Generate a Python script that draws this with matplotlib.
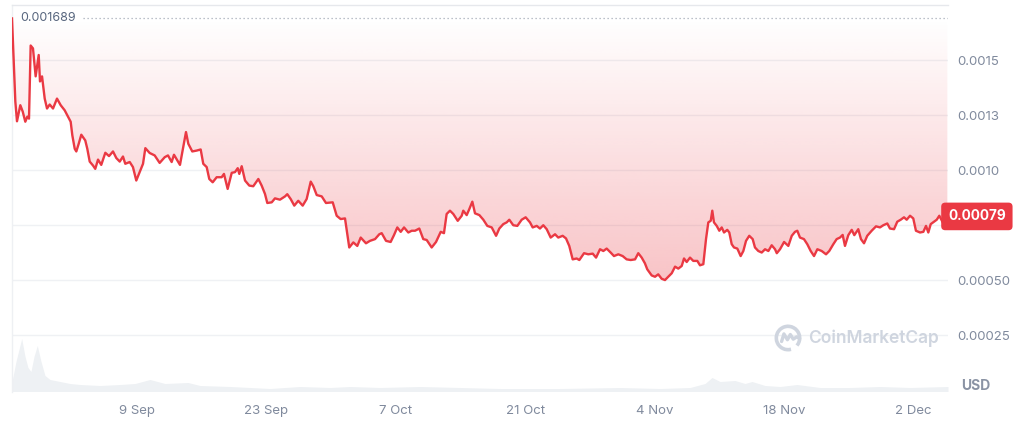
import numpy as np
import matplotlib
matplotlib.use("Agg")
import matplotlib.pyplot as plt
import matplotlib.dates as mdates
import matplotlib.transforms as mtransforms
from matplotlib.patches import Arc

plt.rcParams['font.family'] = ['Inter', 'DejaVu Sans']

# ---------------- data ----------------
start_date = '2024-08-27'
# days since start_date
day = [-0.53, -0.17, 0.01, 0.37, 0.63, 0.91, 1.13, 1.31, 1.49, 1.74, 2.03, 2.36, 2.50, 2.72,
       3.01, 3.26, 3.55, 3.91, 4.34, 4.74, 5.17, 5.53, 5.82, 6.00, 6.26, 6.43, 6.69, 6.97,
       7.40, 7.62, 7.88, 8.24, 8.48, 8.78, 9.13, 9.57, 9.97, 10.40, 10.76, 11.13, 11.48,
       11.73, 12.21, 12.56, 12.92, 13.29, 13.65, 13.90, 14.37, 14.91, 15.45, 16.00, 16.35,
       16.75, 17.00, 17.65, 18.30, 18.55, 18.98, 19.46, 19.89, 20.17, 20.54, 20.82, 21.19,
       21.62, 22.16, 22.41, 22.81, 23.25, 23.60, 23.90, 24.07, 24.33, 24.69, 25.15, 25.58,
       26.13, 26.49, 26.85, 27.10, 27.58, 27.93, 28.47, 29.02, 29.26, 29.63, 30.02, 30.45,
       30.93, 31.36, 31.80, 32.08, 32.45, 32.99, 33.45, 34.18, 34.61, 35.04, 35.51, 35.97,
       36.41, 36.84, 37.21, 37.78, 38.21, 38.76, 39.22, 39.48, 39.95, 40.45, 40.81, 41.17,
       41.54, 41.90, 42.36, 42.73, 43.09, 43.55, 43.98, 44.35, 44.89, 45.36, 45.87, 46.22,
       46.51, 46.87, 47.23, 47.71, 48.14, 48.31, 48.68, 48.96, 49.29, 49.58, 50.05, 50.48,
       50.91, 51.39, 51.86, 52.21, 52.64, 53.01, 53.29, 53.72, 54.16, 54.63, 55.06, 55.53,
       55.82, 56.26, 56.61, 56.97, 57.34, 57.77, 58.24, 58.59, 59.07, 59.43, 59.78, 60.15,
       60.58, 60.87, 61.38, 61.84, 62.32, 62.68, 63.11, 63.47, 63.83, 64.26, 64.62, 65.09,
       65.56, 65.99, 66.43, 66.90, 67.25, 67.62, 67.97, 68.22, 68.70, 69.06, 69.41, 69.78,
       70.14, 70.50, 70.87, 71.23, 71.58, 71.95, 72.20, 72.49, 72.85, 73.20, 73.64, 73.93,
       74.29, 74.58, 74.83, 75.09, 75.26, 75.44, 75.74, 76.02, 76.28, 76.53, 76.88, 77.10,
       77.36, 77.61, 77.97, 78.33, 78.62, 78.91, 79.26, 79.63, 79.88, 80.24, 80.61, 80.97,
       81.33, 81.69, 82.05, 82.24, 82.59, 83.03, 83.49, 83.86, 84.21, 84.46, 84.75, 85.18,
       85.54, 85.91, 86.27, 86.63, 87.10, 87.57, 87.92, 88.36, 88.72, 89.08, 89.37, 89.62,
       89.98, 90.35, 90.63, 91.06, 91.35, 91.68, 92.03, 92.51, 92.98, 93.41, 93.77, 94.20,
       94.49, 94.93, 95.28, 95.65, 96.01, 96.30, 96.66, 97.01, 97.30, 97.74, 98.10, 98.39,
       98.64, 98.90, 99.25, 99.55, 99.83, 100.20, 100.45, 100.70]
# price in micro-USD (1e-6 USD)
price_u = [1689, 1312, 1222, 1295, 1266, 1220, 1243, 1234, 1566, 1553, 1426, 1523, 1403, 1426,
           1325, 1280, 1298, 1280, 1325, 1295, 1272, 1243, 1220, 1158, 1097, 1085, 1120, 1161,
           1135, 1097, 1039, 1021, 1006, 1048, 1024, 1079, 1064, 1085, 1055, 1039, 1062,
           1029, 1037, 1014, 953, 991, 1029, 1100, 1078, 1067, 1033, 1059, 1067,
           1037, 1070, 1024, 1173, 1120, 1085, 1089, 1094, 1029, 1014, 960, 945,
           968, 968, 983, 915, 988, 991, 1009, 983, 1018, 953, 930, 927,
           960, 930, 892, 851, 854, 872, 866, 881, 891, 869, 839, 861,
           839, 869, 948, 927, 887, 881, 851, 854, 793, 778, 781, 649,
           672, 656, 694, 668, 679, 687, 709, 714, 679, 674, 705, 740,
           720, 740, 717, 725, 725, 735, 687, 683, 649, 674, 720, 714,
           801, 816, 801, 770, 793, 816, 796, 823, 857, 804, 796, 775,
           747, 740, 702, 735, 755, 763, 775, 750, 747, 775, 786, 763,
           740, 747, 735, 750, 732, 694, 709, 694, 702, 690, 656, 595,
           599, 592, 623, 618, 621, 603, 641, 633, 644, 626, 610, 618,
           610, 595, 592, 595, 623, 603, 577, 550, 522, 516, 527, 507,
           501, 516, 532, 562, 553, 565, 599, 583, 603, 588, 588, 568,
           573, 687, 763, 770, 816, 763, 747, 725, 740, 717, 729, 717,
           664, 649, 644, 610, 633, 679, 702, 687, 649, 633, 626, 641,
           633, 659, 641, 623, 641, 674, 656, 702, 720, 725, 694, 687,
           664, 633, 610, 641, 633, 618, 633, 664, 687, 694, 706, 656,
           705, 729, 705, 732, 687, 668, 702, 725, 745, 740, 750, 758,
           735, 732, 766, 775, 786, 775, 793, 781, 725, 717, 720, 747,
           717, 755, 766, 775, 793, 763, 770, 790]
# volume (relative units)
vol_day = [-0.53, -0.10, 0.52, 0.88, 1.20, 1.52, 1.85, 2.21, 2.61, 3.04, 3.58, 4.66, 5.75,
           6.83, 9.00, 11.16, 12.79, 14.40, 16.03, 18.52, 19.82, 23.07, 25.23, 27.40, 30.64,
           33.89, 36.05, 39.30, 43.63, 47.96, 52.29, 58.78, 65.28, 69.61, 72.85, 74.48,
           75.23, 76.10, 77.72, 78.80, 79.56, 80.97, 82.59, 84.43, 86.92, 90.17, 93.41,
           96.66, 100.77]
volume = [10, 30, 53, 35, 24, 20, 35, 46, 30, 16, 12, 10, 8,
          7, 6, 7, 8, 12, 8, 9, 6, 5, 4, 3, 5,
          4, 5, 4, 5, 4, 3, 3, 4, 3, 4, 8,
          14, 10, 11, 8, 10, 6, 5, 7, 4, 4, 5,
          4, 5]

ref_price = 1689e-6
last_price_label = '0.00079'
ytick_vals = [0.00025, 0.0005, 0.00075, 0.001, 0.00125, 0.0015]
ytick_labels = ['0.00025', '0.00050', '', '0.0010', '0.0013', '0.0015']
xtick_dates = ['2024-09-09', '2024-09-23', '2024-10-07', '2024-10-21',
               '2024-11-04', '2024-11-18', '2024-12-02']
xtick_labels = ['9 Sep', '23 Sep', '7 Oct', '21 Oct', '4 Nov', '18 Nov', '2 Dec']

# ---------------- plotting ----------------
RED = '#ea3943'
GRAY_TXT = '#808a9d'
base = mdates.datestr2num(start_date)
t = base + np.array(day)
p = np.array(price_u) * 1e-6
tv = base + np.array(vol_day)
v = np.array(volume, dtype=float)

fig = plt.figure(figsize=(10.2, 4.21), dpi=100)
fig.patch.set_facecolor('white')
pos = [12 / 1020, 29.5 / 421, 936 / 1020, 386.5 / 421]

vax = fig.add_axes(pos, zorder=0)
ax = fig.add_axes(pos, zorder=1, sharex=vax)
ax.patch.set_alpha(0)

# volume
vax.fill_between(tv, v, 0, color='#eef1f4', lw=0)
vax.set_ylim(0, v.max() * 386.5 / 53)
vax.axis('off')

xmin, xmax = base - 0.53, base + 100.77
ymin, ymax = -0.000005, 0.00175

# gradient area between line and reference price
poly = ax.fill_between(t, p, ref_price, color='none', lw=0)
ny = 256
frac = np.linspace(0, 1, ny)[:, None]  # 0 at bottom (low price), 1 at top
lowp = p.min()
grad = np.zeros((ny, 2, 4))
grad[..., 0] = 234 / 255
grad[..., 1] = 57 / 255
grad[..., 2] = 67 / 255
grad[..., 3] = (0.30 * (1 - frac)) * np.ones((1, 2))
img = ax.imshow(grad, extent=[xmin, xmax, lowp, ref_price], origin='lower',
                aspect='auto', interpolation='bicubic', zorder=1)
img.set_clip_path(poly.get_paths()[0], transform=ax.transData)

ax.plot(t, p, color=RED, lw=1.7, zorder=3, solid_joinstyle='round')

# reference dotted line + label
ax.axhline(ref_price, xmin=0.076, xmax=1.0, color='#a6adb9', lw=0.9,
           ls=(0, (1, 2.2)), zorder=2)
ax.text(0.0085, ref_price, '0.001689', transform=mtransforms.blended_transform_factory(ax.transAxes, ax.transData),
        ha='left', va='center', fontsize=9, color='#58667e', zorder=4)

ax.set_xlim(xmin, xmax)
ax.set_ylim(ymin, ymax)

# grid
for gy in ytick_vals:
    ax.axhline(gy, color='#eff1f4', lw=1.0, zorder=0.5)

ax.yaxis.tick_right()
ax.set_yticks(ytick_vals)
ax.set_yticklabels(ytick_labels)
ax.set_xticks(mdates.datestr2num(xtick_dates))
ax.set_xticklabels(xtick_labels)
ax.tick_params(axis='both', length=0, labelsize=9.5, colors=GRAY_TXT)
ax.tick_params(axis='y', pad=7)
ax.tick_params(axis='x', pad=10)

for s in ['right', 'bottom']:
    ax.spines[s].set_visible(False)
ax.spines['top'].set_color('#e6e8ec')
ax.spines['left'].set_color('#eef0f3')
ax.spines['top'].set_linewidth(1.0)
ax.spines['left'].set_linewidth(1.0)

# current price badge
ax.text(1.0, p[-1], last_price_label,
        transform=mtransforms.blended_transform_factory(ax.transAxes, ax.transData),
        ha='left', va='center', fontsize=9.8, fontweight='bold', color='white', zorder=6,
        bbox=dict(boxstyle='round,pad=0.5,rounding_size=0.3', fc=RED, ec='none'),
        clip_on=False)

# USD label
fig.text(976 / 1020, 1 - 386 / 421, 'USD', ha='center', va='center', fontsize=10,
         fontweight='bold', color='#8a93a4')

# watermark
fig.text(808 / 1020, 1 - 338 / 421, 'CoinMarketCap', ha='left', va='center',
         fontsize=12.5, fontweight='semibold', color='#cfd5df')
lax = fig.add_axes([774 / 1020, 1 - 352 / 421, 28 / 1020, 28 / 421], zorder=2)
lax.set_xlim(-1.2, 1.2)
lax.set_ylim(-1.2, 1.2)
lax.set_aspect('equal')
lax.axis('off')
lax.add_patch(Arc((0, 0), 2.0, 2.0, theta1=-40, theta2=285, color='#cfd5df', lw=2.6))
lax.plot([-0.55, -0.35, -0.05, 0.2, 0.45, 0.75, 1.0], [-0.3, 0.35, -0.15, 0.3, -0.1, 0.1, -0.05],
         color='#cfd5df', lw=2.4, solid_joinstyle='round', solid_capstyle='round')

fig.savefig('out.png', dpi=100, facecolor='white')
